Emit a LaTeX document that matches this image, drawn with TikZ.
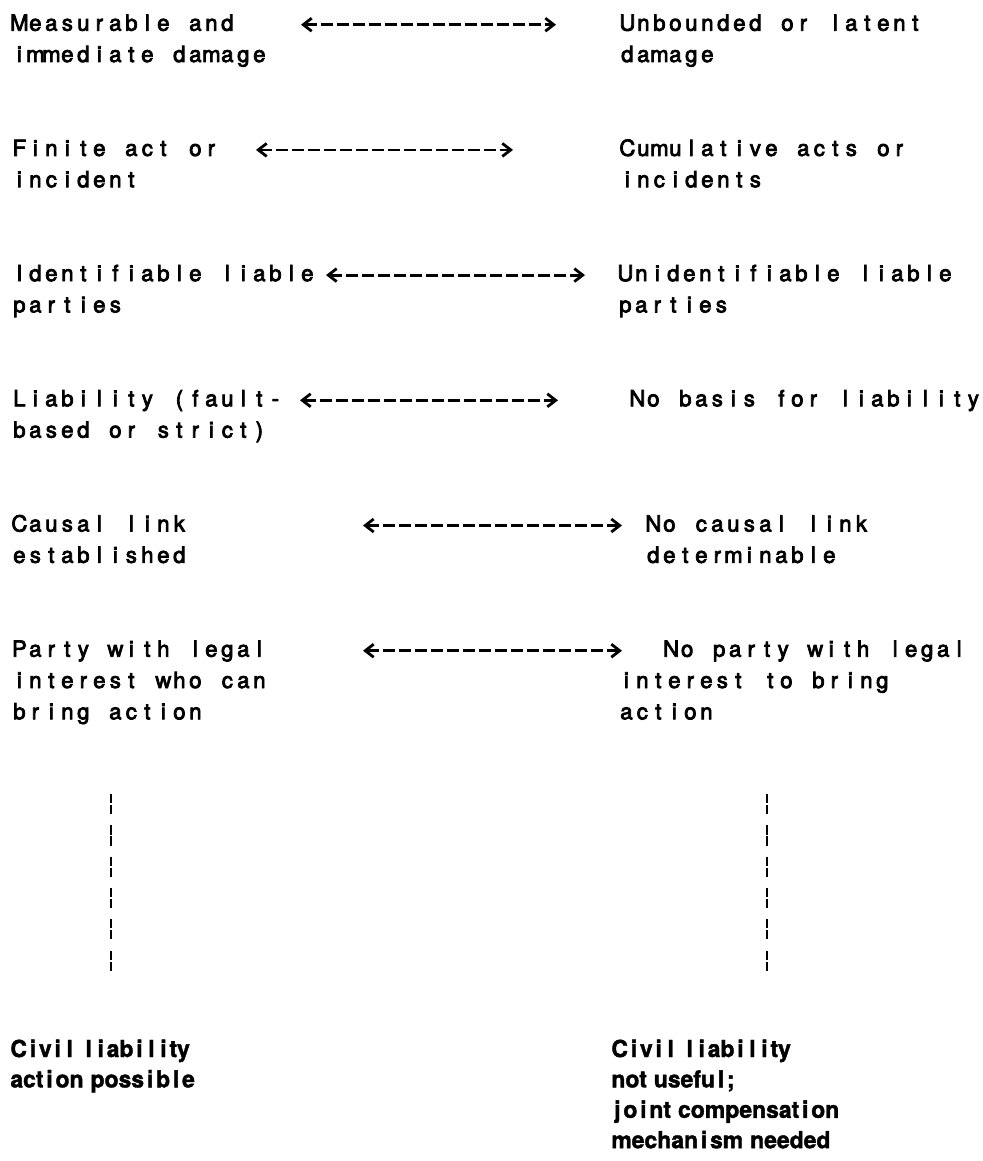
\documentclass[tikz,border=0pt]{standalone}
\usepackage{fontspec}
\usetikzlibrary{arrows.meta}
\newfontfamily\topfont{TeX Gyre Heros}[FakeStretch=1.0,FakeBold=3.5]
\newfontfamily\botfont{TeX Gyre Heros}[FakeStretch=0.98,FakeBold=1.6]
\makeatletter
\newlength\cw \setlength\cw{8pt}
\newlength\nw \setlength\nw{6pt}
\def\mt@end{\mt@end}
\def\mt@loop{\futurelet\mt@next\mt@check}
\def\mt@check{%
  \ifx\mt@next\mt@end \let\mt@act\mt@stop
  \else\ifx\mt@next\@sptoken \let\mt@act\mt@space
  \else \let\mt@act\mt@char\fi\fi \mt@act}
\def\mt@stop\mt@end{}
\def\mt@char#1{\mt@do{#1}\mt@loop}
\def\mt@space{\mt@spc\afterassignment\mt@loop\let\mt@tmp= }
\def\mt@domono#1{\makebox[\cw][c]{#1}}
\def\mt@spcmono{\hspace*{\cw}}
\def\mt@dowide#1{\ifx i#1\makebox[\nw][c]{#1}\else\ifx l#1\makebox[\nw][c]{#1}\else\ifx j#1\makebox[\nw][c]{#1}\else#1\fi\fi\fi}
\def\mt@spcwide{\hspace*{0.3em}}
\newcommand\mono[1]{\begingroup\let\mt@do\mt@domono\let\mt@spc\mt@spcmono\mt@loop#1\mt@end\endgroup}
\newcommand\wide[1]{\begingroup\let\mt@do\mt@dowide\let\mt@spc\mt@spcwide\mt@loop#1\mt@end\endgroup}
\makeatother
\newcommand\blk[1]{\begin{tabular}[t]{@{}l@{}}#1\end{tabular}}
\begin{document}
\begin{tikzpicture}[x=0.5pt,y=-0.5pt,
  lt/.style={anchor=base west,inner sep=0pt,font=\topfont\fontsize{11.1pt}{15.65pt}\selectfont},
  bt/.style={anchor=base west,inner sep=0pt,font=\botfont\bfseries\fontsize{11.7pt}{15.2pt}\selectfont},
  dasharr/.style={line width=1.4pt,dash pattern=on 6.3pt off 1.7pt,{Straight Barb[length=4.2pt,width=6.5pt]}-{Straight Barb[length=4.2pt,width=6.5pt]}},
  vdash/.style={line width=1.35pt,dash pattern=on 4.6pt off 0.9pt on 4.6pt off 5.55pt}]
\fill[white] (0,0) rectangle (983,1161);
\useasboundingbox (0,0) rectangle (983,1161);
% row 1
\node[lt] (l1) at (11,30.7) {\blk{\mono{Measurable and}\\\mono{immediate damage}}};
\node[lt] (r1) at (619,30.7) {\blk{\mono{Unbounded or latent}\\\mono{damage}}};
% row 2
\node[lt] (l2) at (11,155.9) {\blk{\mono{Finite act or}\\\mono{incident}}};
\node[lt] (r2) at (619,155.9) {\blk{\mono{Cumulative acts or}\\\mono{incidents}}};
% row 3
\node[lt] (l3) at (11,281.1) {\blk{\mono{Identifiable liable}\\\mono{parties}}};
\node[lt] (r3) at (617,281.1) {\blk{\mono{Unidentifiable liable}\\\mono{parties}}};
% row 4
\node[lt] (l4) at (11,406.3) {\blk{\mono{Liability (fault-}\\\mono{based or strict)}}};
\node[lt] (r4) at (629,406.3) {\blk{\mono{No basis for liability}}};
% row 5
\node[lt] (l5) at (11,531.5) {\blk{\mono{Causal link}\\\mono{established}}};
\node[lt] (r5) at (645,531.5) {\blk{\mono{No causal link}\\\mono{determinable}}};
% row 6
\node[lt] (l6) at (11,656.7) {\blk{\mono{Party with legal}\\\mono{interest who can}\\\mono{bring action}}};
\node[lt] (r6) at (618,656.7) {\blk{\hspace*{2.8\cw}\mono{No party with legal}\\\mono{interest to bring}\\\mono{action}}};
% bottom
\node[bt] (b1) at (10,1057) {\blk{\wide{Civil liability}\\\wide{action possible}}};
\node[bt] (b2) at (611,1057) {\blk{\wide{Civil liability}\\\wide{not useful;}\\\wide{joint compensation}\\\wide{mechanism needed}}};
% arrow end points
\coordinate (a1s) at (301,24.7); \coordinate (a1e) at (556,24.7);
\coordinate (a2s) at (256,149.9); \coordinate (a2e) at (513,149.9);
\coordinate (a3s) at (326,275.1); \coordinate (a3e) at (585,275.1);
\coordinate (a4s) at (300,400.3); \coordinate (a4e) at (558,400.3);
\coordinate (a5s) at (363,525.5); \coordinate (a5e) at (622,525.5);
\coordinate (a6s) at (363,650.7); \coordinate (a6e) at (622,650.7);
\foreach \i in {1,...,6} \draw[dasharr] (a\i s) -- (a\i e);
% vertical dashed leaders
\coordinate (v1s) at (111,794); \coordinate (v1e) at (111,972);
\coordinate (v2s) at (767,794); \coordinate (v2e) at (767,972);
\draw[vdash] (v1s) -- (v1e);
\draw[vdash] (v2s) -- (v2e);
\end{tikzpicture}
\end{document}
